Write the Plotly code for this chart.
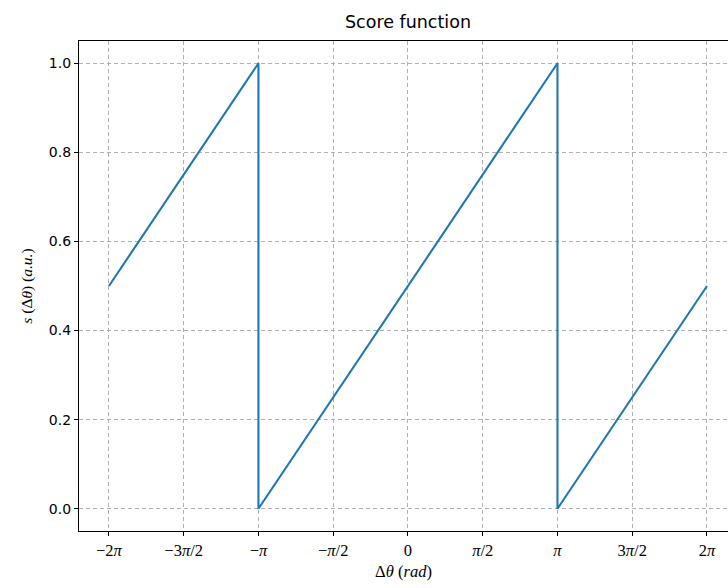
import numpy as np
import plotly.graph_objects as go

PI = np.pi
# Data: sawtooth score function
x_vals = [-2 * PI, -PI, -PI, PI, PI, 2 * PI]
y_vals = [0.5, 1.0, 0.0, 1.0, 0.0, 0.5]

x_tick_vals = [-2 * PI, -1.5 * PI, -PI, -0.5 * PI, 0, 0.5 * PI, PI, 1.5 * PI, 2 * PI]
x_tick_text = ["−2<i>π</i>", "−3<i>π</i>/2", "−<i>π</i>", "−<i>π</i>/2", "0",
               "<i>π</i>/2", "<i>π</i>", "3<i>π</i>/2", "2<i>π</i>"]
y_tick_vals = [0.0, 0.2, 0.4, 0.6, 0.8, 1.0]
y_tick_text = ["0.0", "0.2", "0.4", "0.6", "0.8", "1.0"]

fig = go.Figure()
fig.add_trace(go.Scatter(x=x_vals, y=y_vals, mode="lines",
                         line=dict(color="#1f77b4", width=2.1),
                         showlegend=False, hoverinfo="skip"))

grid = dict(showgrid=True, gridcolor="#b0b0b0", gridwidth=1, griddash="4px,3px")
fig.update_xaxes(range=[-6.912, 6.725], tickvals=x_tick_vals, ticktext=x_tick_text,
                 showline=True, linecolor="black", linewidth=1.2, mirror=True,
                 ticks="outside", ticklen=4, tickwidth=1, tickcolor="black",
                 zeroline=False,
                 tickfont=dict(family="Liberation Serif", size=16.5, color="black"),
                 title=dict(text="Δ<i>θ</i> (<i>rad</i>)", standoff=6,
                            font=dict(family="Liberation Serif", size=16.5, color="black")),
                 **grid)
fig.update_yaxes(range=[-0.05, 1.05], tickvals=y_tick_vals, ticktext=y_tick_text,
                 showline=True, linecolor="black", linewidth=1.2, mirror=False,
                 ticks="outside", ticklen=4, tickwidth=1, tickcolor="black",
                 zeroline=False,
                 tickfont=dict(family="DejaVu Sans", size=14, color="black"),
                 title=dict(text="<i>s</i> (Δ<i>θ</i>) (<i>a.u.</i>)", standoff=12,
                            font=dict(family="Liberation Serif", size=15.5, color="black")),
                 **grid)

fig.update_layout(
    width=728, height=588,
    margin=dict(l=79, r=0, t=41, b=57),
    plot_bgcolor="white", paper_bgcolor="white",
    title=dict(text="Score function", x=(408 / 728), xanchor="center",
               y=1 - 22 / 588, yanchor="middle",
               font=dict(family="DejaVu Sans", size=17.5, color="black")),
)

fig.write_html("out.html")
